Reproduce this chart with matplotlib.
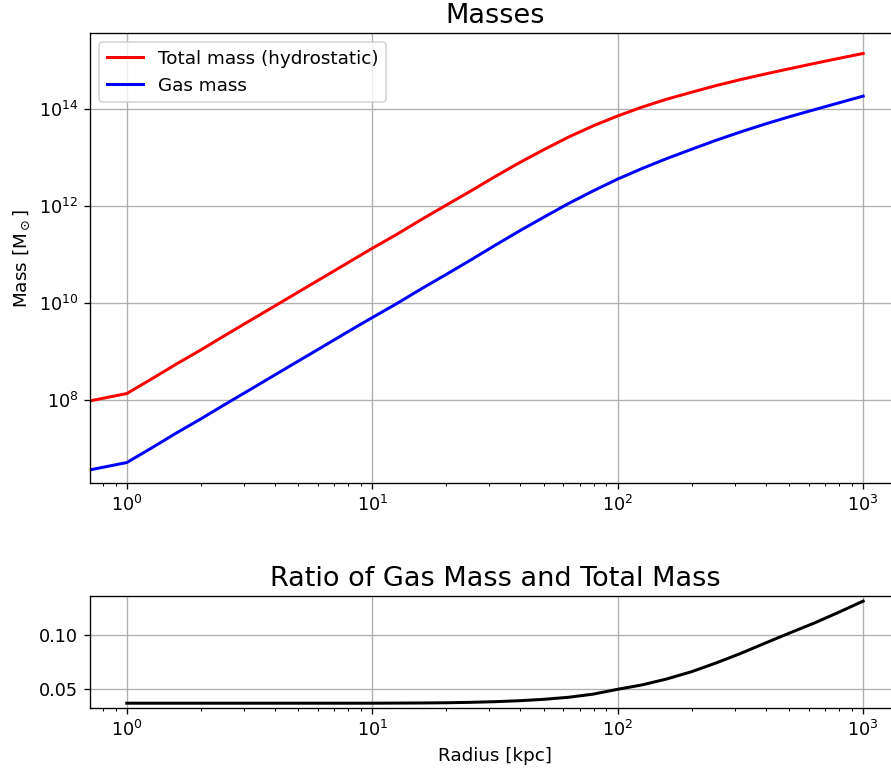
import numpy as np
import matplotlib
matplotlib.use('Agg')
import matplotlib.pyplot as plt

# radius [kpc]; r = 0 is the centre (zero enclosed mass)
radius = [0, 1.0, 1.26, 1.58, 2.0, 2.51, 3.16, 3.98, 5.01, 6.31, 7.94,
          10.0, 12.6, 15.8, 20.0, 25.1, 31.6, 39.8, 50.1, 63.1, 79.4,
          100.0, 126.0, 158.0, 200.0, 251.0, 316.0, 398.0, 501.0, 631.0, 794.0,
          1000.0]

# enclosed hydrostatic total mass [M_sun]
total_mass = [0, 1.35e8, 2.69e8, 5.37e8, 1.07e9, 2.14e9, 4.27e9, 8.51e9, 1.70e10,
              3.39e10, 6.76e10,
              1.35e11, 2.63e11, 5.25e11, 1.05e12, 2.04e12, 4.07e12, 7.94e12,
              1.48e13, 2.69e13, 4.57e13,
              7.33e13, 1.12e14, 1.62e14, 2.26e14, 3.09e14, 4.12e14, 5.37e14,
              6.92e14, 8.87e14, 1.13e15,
              1.43e15]

# enclosed gas mass [M_sun]
gas_mass = [0, 5.07e6, 1.01e7, 2.02e7, 4.03e7, 8.04e7, 1.60e8, 3.20e8, 6.38e8,
            1.27e9, 2.54e9,
            5.01e9, 9.77e9, 1.95e10, 3.89e10, 7.67e10, 1.55e11, 3.09e11,
            5.97e11, 1.14e12, 2.07e12,
            3.64e12, 6.04e12, 9.59e12, 1.50e13, 2.29e13, 3.41e13, 4.97e13,
            7.06e13, 9.82e13, 1.36e14,
            1.88e14]

# gas fraction (undefined at the centre)
ratio = [np.nan, 0.0368, 0.0368, 0.0368, 0.0368, 0.0368, 0.0368, 0.0368, 0.0368,
         0.0368, 0.0368,
         0.0368, 0.0369, 0.0370, 0.0372, 0.0376, 0.0382, 0.0391, 0.0404,
         0.0423, 0.0452,
         0.0497, 0.0538, 0.0592, 0.0660, 0.0740, 0.0828, 0.0924, 0.1018,
         0.1110, 0.1210,
         0.1314]

plt.rcParams['font.size'] = 11
plt.rcParams['xtick.labelsize'] = 10.6
plt.rcParams['ytick.labelsize'] = 10.6

W, H = 891, 771
fig = plt.figure(figsize=(W / 120., H / 120.), dpi=120)

ax0 = fig.add_axes([90. / W, 1 - 483. / H, 810. / W, 450. / H])
ax1 = fig.add_axes([90. / W, 1 - 708.3 / H, 810. / W, 112.3 / H])

ax0.plot(radius, total_mass, 'r', lw=1.8, label='Total mass (hydrostatic)')
ax0.plot(radius, gas_mass, 'b', lw=1.8, label='Gas mass')
ax0.set_xscale('log')
ax0.set_yscale('log')
ax0.set_yticks([1e8, 1e10, 1e12, 1e14])
ax0.yaxis.set_minor_locator(matplotlib.ticker.NullLocator())
ax0.set_ylabel(r'Mass [M$_\odot$]')
ax0.set_title('Masses', fontsize=16.3)
ax0.grid(True)
ax0.legend(loc='upper left')

ax1.plot(radius, ratio, 'k', lw=1.8)
ax1.set_xscale('log')
ax1.set_yticks([0.05, 0.10])
ax1.set_xlabel('Radius [kpc]')
ax1.set_title('Ratio of Gas Mass and Total Mass', fontsize=16.3)
ax1.grid(True)

plt.savefig('out.png', dpi=120)
